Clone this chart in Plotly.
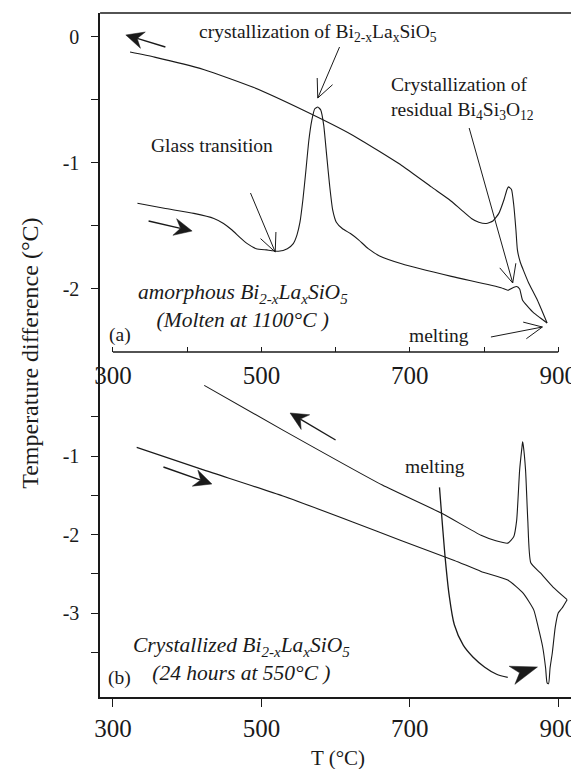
import math
import plotly.graph_objects as go

# ---------------- data: panel (a) amorphous, molten at 1100 C ----------------
a_heat_T = [333, 369, 409, 436, 449, 460, 471, 481, 493, 507, 523, 535, 543, 548, 552,
            556, 560, 564, 568, 572, 576, 580, 584, 588, 592, 596, 601, 609, 620, 631,
            644, 660, 689, 756, 823, 832, 839, 844, 848, 852, 859, 867, 876, 885]
a_heat_dT = [-1.32, -1.36, -1.40, -1.44, -1.48, -1.53, -1.59, -1.64, -1.68, -1.69, -1.70,
             -1.68, -1.64, -1.57, -1.47, -1.29, -1.06, -0.82, -0.66, -0.57, -0.556, -0.58,
             -0.70, -0.94, -1.18, -1.37, -1.47, -1.52, -1.56, -1.61, -1.68, -1.74, -1.80,
             -1.90, -1.99, -2.01, -1.99, -1.98, -2.00, -2.09, -2.14, -2.19, -2.23, -2.27]
a_cool_T = [323, 356, 423, 489, 556, 623, 689, 729, 753, 769, 783, 793, 803, 812, 820,
            827, 831, 833, 837, 840, 843, 845, 849, 853, 860, 872, 885]
a_cool_dT = [-0.12, -0.16, -0.26, -0.40, -0.58, -0.78, -1.02, -1.19, -1.29, -1.37, -1.44,
             -1.47, -1.48, -1.46, -1.40, -1.29, -1.21, -1.19, -1.21, -1.33, -1.53, -1.69,
             -1.79, -1.85, -1.95, -2.09, -2.27]

# ---------------- data: panel (b) crystallized, 24 h at 550 C ----------------
b_heat_T = [332, 423, 529, 623, 689, 760, 796, 832, 853, 867, 873, 879, 883, 885, 887,
            889, 892, 896, 900, 905, 912]
b_heat_dT = [-0.89, -1.18, -1.51, -1.84, -2.08, -2.33, -2.47, -2.58, -2.75, -2.96, -3.18,
             -3.43, -3.70, -3.89, -3.90, -3.70, -3.51, -3.18, -3.00, -2.94, -2.83]
b_cool_T = [423, 529, 663, 743, 796, 816, 832, 840, 844, 848, 851, 852, 853, 856, 859,
            863, 876, 893, 912]
b_cool_dT = [-0.10, -0.67, -1.37, -1.73, -2.01, -2.08, -2.11, -2.03, -1.82, -1.18, -0.90,
             -0.82, -0.87, -1.18, -1.82, -2.36, -2.49, -2.67, -2.83]
# curved "melting" pointer in panel (b)
b_melt_T = [740, 744, 748, 753, 760, 772, 785, 801, 817, 832]
b_melt_dT = [-1.40, -1.88, -2.33, -2.77, -3.15, -3.41, -3.56, -3.69, -3.78, -3.82]

# ---------------- ticks ----------------
xa_ticks = [300, 500, 700, 900]
xa_minor = [400, 600, 800]
xb_ticks = [300, 500, 700, 900]
x_labels = ["300", "500", "700", "900"]
ya_ticks = [0, -1, -2]
ya_labels = ["0", "-1", "-2"]
ya_minor = [-0.5, -1.5]
yb_ticks = [-1, -2, -3]
yb_labels = ["-1", "-2", "-3"]
yb_minor = [-0.5, -1.5, -2.5, -3.5]

FONT = "Liberation Serif, Times New Roman, serif"
INK = "#1a1a1a"

# page geometry: the page body has an 8px margin, so the figure is shrunk by it
PAGE_W, PAGE_H, OFF = 579, 769, 8
W, H = PAGE_W - OFF, PAGE_H - OFF

X0 = 95            # left spine (page px)
XRANGE = [282.67, 928]
YA_RANGE = [-2.5, 0.19]
YB_RANGE = [-4.07, 0.325]


def P(x, y):
    """page pixel -> paper coords"""
    return (x - OFF) / W, 1 - (y - OFF) / H


XDOM = [P(X0, 0)[0], 1.0]
YA_DOM = [P(0, 352)[1], P(0, 13)[1]]
YB_DOM = [P(0, 697)[1], P(0, 352)[1]]


def Tpaper(T):
    return XDOM[0] + (T - XRANGE[0]) / (XRANGE[1] - XRANGE[0]) * (XDOM[1] - XDOM[0])


line_style = dict(color=INK, width=1.1, shape="spline", smoothing=0.5)

fig = go.Figure()
fig.add_trace(go.Scatter(x=a_heat_T, y=a_heat_dT, xaxis="x", yaxis="y", mode="lines", line=line_style))
fig.add_trace(go.Scatter(x=a_cool_T, y=a_cool_dT, xaxis="x", yaxis="y", mode="lines", line=line_style))
fig.add_trace(go.Scatter(x=b_heat_T, y=b_heat_dT, xaxis="x2", yaxis="y2", mode="lines", line=line_style))
fig.add_trace(go.Scatter(x=b_cool_T, y=b_cool_dT, xaxis="x2", yaxis="y2", mode="lines", line=line_style))
fig.add_trace(go.Scatter(x=b_melt_T, y=b_melt_dT, xaxis="x2", yaxis="y2", mode="lines",
                         line=dict(color=INK, width=1.3, shape="spline", smoothing=0.8)))

tickfont_x = dict(family=FONT, size=25, color=INK)
tickfont_y = dict(family=FONT, size=20, color=INK)
common = dict(showgrid=False, zeroline=False, tickcolor=INK, tickwidth=1.3)

fig.update_layout(
    width=W, height=H, margin=dict(l=0, r=0, t=0, b=0),
    paper_bgcolor="white", plot_bgcolor="white", showlegend=False,
    xaxis=dict(domain=XDOM, range=XRANGE, anchor="y", showline=False, ticks="inside", ticklen=5,
               ticklabelstandoff=6, tickvals=xa_ticks, ticktext=x_labels, tickfont=tickfont_x,
               minor=dict(tickvals=xa_minor, ticks="inside", ticklen=5, tickcolor=INK, tickwidth=1.3),
               **common),
    yaxis=dict(domain=YA_DOM, range=YA_RANGE, anchor="x", showline=True, linecolor=INK, linewidth=1.5,
               ticks="outside", ticklen=7, ticklabelstandoff=8, tickvals=ya_ticks, ticktext=ya_labels,
               tickfont=tickfont_y,
               minor=dict(tickvals=ya_minor, ticks="outside", ticklen=7, tickcolor=INK, tickwidth=1.3),
               **common),
    xaxis2=dict(domain=XDOM, range=XRANGE, anchor="y2", showline=True, linecolor=INK, linewidth=1.5,
                ticks="outside", ticklen=8, tickvals=xb_ticks, ticktext=x_labels, tickfont=tickfont_x,
                **common),
    yaxis2=dict(domain=YB_DOM, range=YB_RANGE, anchor="x2", showline=True, linecolor=INK, linewidth=1.5,
                ticks="outside", ticklen=7, ticklabelstandoff=8, tickvals=yb_ticks, ticktext=yb_labels,
                tickfont=tickfont_y,
                minor=dict(tickvals=yb_minor, ticks="outside", ticklen=7, tickcolor=INK, tickwidth=1.3),
                **common),
)

shapes = [
    # top border of panel (a)
    dict(type="line", xref="paper", yref="paper", x0=XDOM[0], x1=1.0, y0=YA_DOM[1], y1=YA_DOM[1],
         line=dict(color=INK, width=1.5)),
    # shortened x-axis line of panel (a)
    dict(type="line", xref="paper", yref="paper", x0=Tpaper(300), x1=Tpaper(900), y0=YA_DOM[0], y1=YA_DOM[0],
         line=dict(color=INK, width=1.5)),
]


def seg(p, q, w=1.0):
    x0, y0 = P(*p)
    x1, y1 = P(*q)
    shapes.append(dict(type="line", xref="paper", yref="paper", x0=x0, y0=y0, x1=x1, y1=y1,
                       line=dict(color=INK, width=w)))


def unit(tip, tail):
    dx, dy = tail[0] - tip[0], tail[1] - tip[1]
    n = math.hypot(dx, dy)
    return dx / n, dy / n


def open_arrow(tip, tail, arm=20, ang=25):
    seg(tail, tip, 1.0)
    ux, uy = unit(tip, tail)
    for s in (1, -1):
        a = math.radians(ang) * s
        rx = ux * math.cos(a) - uy * math.sin(a)
        ry = ux * math.sin(a) + uy * math.cos(a)
        seg(tip, (tip[0] + arm * rx, tip[1] + arm * ry), 1.0)


def filled_head(tip, tail, L=18, hw=8.5, notch=6):
    ux, uy = unit(tip, tail)
    nx, ny = -uy, ux
    pts = [tip,
           (tip[0] + L * ux + hw * nx, tip[1] + L * uy + hw * ny),
           (tip[0] + (L - notch) * ux, tip[1] + (L - notch) * uy),
           (tip[0] + L * ux - hw * nx, tip[1] + L * uy - hw * ny)]
    path = "M " + " L ".join("%.5f,%.5f" % P(*p) for p in pts) + " Z"
    shapes.append(dict(type="path", xref="paper", yref="paper", path=path,
                       fillcolor=INK, line=dict(color=INK, width=0.5)))
    return (tip[0] + (L - notch) * ux, tip[1] + (L - notch) * uy)


def filled_arrow(tip, tail, **kw):
    base = filled_head(tip, tail, **kw)
    seg(tail, base, 1.4)


ann = []


def text(xp, yp, s, size=19.5, **kw):
    x, y = P(xp, yp)
    d = dict(x=x, y=y, xref="paper", yref="paper", text=s, showarrow=False,
             font=dict(family=FONT, size=size, color=INK), xanchor="center", yanchor="middle")
    d.update(kw)
    ann.append(d)


# panel (a)
filled_arrow((121, 35), (161, 47))
text(315, 33, "crystallization of Bi<sub>2-x</sub>La<sub>x</sub>SiO<sub>5</sub>")
open_arrow((315, 98), (337, 47))
text(208, 145, "Glass transition")
open_arrow((272, 252), (247, 193))
filled_arrow((188, 231), (144, 221))
text(387, 98.5, "Crystallization of<br>residual Bi<sub>4</sub>Si<sub>3</sub>O<sub>12</sub>", xanchor="left", align="left")
open_arrow((512, 283), (468, 128))
text(239, 306, "<i>amorphous Bi<sub>2-x</sub>La<sub>x</sub>SiO<sub>5</sub></i><br><i>(Molten at 1100°C )</i>", size=21.5)
text(115, 335, "(a)")
text(438, 335, "melting")
open_arrow((542, 327), (490, 337))

# panel (b)
filled_arrow((287, 413), (333, 440))
filled_arrow((208, 484), (159, 467))
text(433, 466, "melting")
filled_head((537, 667), (506, 677), L=27, hw=9.5, notch=8)
text(238, 659, "<i>Crystallized Bi<sub>2-x</sub>La<sub>x</sub>SiO<sub>5</sub></i><br><i>(24 hours at 550°C )</i>", size=21.5)
text(115, 678, "(b)")

# axis titles
text(24, 353, "Temperature difference (°C)", size=24, textangle=-90)
text(335, 758, "T (°C)", size=21)

fig.update_layout(annotations=ann, shapes=shapes)
fig.write_html("out.html")
